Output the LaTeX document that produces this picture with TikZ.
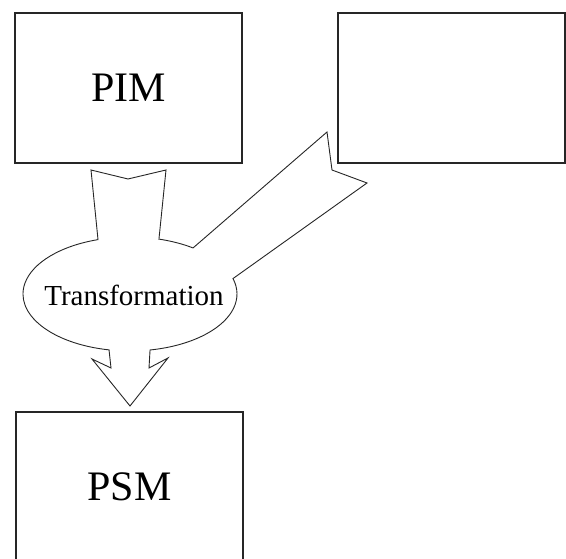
\documentclass[tikz,border=0pt]{standalone}
\usepackage{fontspec}
\setmainfont{Liberation Serif}
\usetikzlibrary{calc}

\tikzset{
  modelbox/.style={draw=black!85, line width=1.6pt, minimum width=227pt, minimum height=150pt, inner sep=0pt, font=\fontsize{42}{44}\selectfont},
  fatarrow/.style={draw=black!85, line width=0.9pt, fill=white, line join=miter},
}

\begin{document}
\begin{tikzpicture}[x=1pt,y=1pt]
  \useasboundingbox (0,0) rectangle (566,559);
  \clip (0,0) rectangle (566,559);
  % models
  \node[modelbox] (pim) at (128.5,471) {PIM};
  \node[modelbox] (src) at (451.5,471) {};
  \node[modelbox] (psm) at (129.5,72) {PSM};
  % transformation blob with the two tails and the head
  \coordinate (c) at (130,265);
  \draw[fatarrow] (91,389) -- (128,380) -- (166,389)
     -- ($(c)+(74.3:107 and 57)$) arc[start angle=74.3, end angle=53.9, x radius=107, y radius=57]
     -- (327,427) -- (332,389) -- (367,376)
     -- ($(c)+(15.7:107 and 57)$) arc[start angle=15.7, end angle=-79.2, x radius=107, y radius=57]
     -- (149,191) -- (168,201) -- (130,153) -- (92,200) -- (111,191)
     -- ($(c)+(-101.3:107 and 57)$) arc[start angle=-101.3, end angle=-252.6, x radius=107, y radius=57]
     -- cycle;
  \node[font=\fontsize{29}{31}\selectfont] (trans) at (134,264) {Transformation};
\end{tikzpicture}
\end{document}
